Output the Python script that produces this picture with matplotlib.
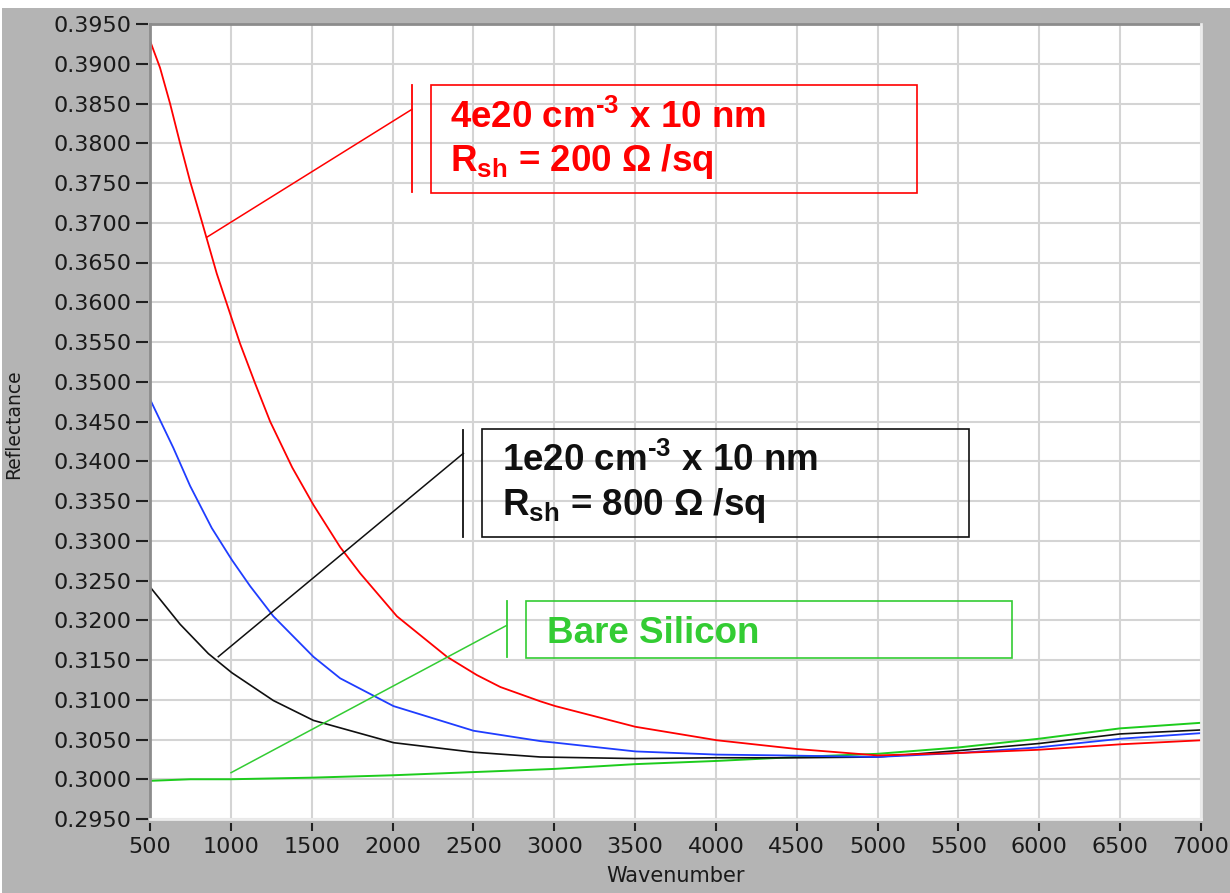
import matplotlib
matplotlib.use("Agg")
import matplotlib.pyplot as plt
from matplotlib.lines import Line2D
from matplotlib.patches import Rectangle

# ---------------- data ----------------
red_x = [500, 562, 624, 686, 748, 820, 913, 985, 1057, 1150, 1243, 1380, 1511, 1676, 1800,
         2027, 2337, 2522, 2667, 2914, 3007, 3502, 4008, 4503, 4998, 5504, 5989, 6505, 7000]
red_y = [0.3929, 0.3895, 0.3850, 0.3800, 0.3752, 0.3702, 0.3636, 0.3592, 0.3548, 0.3498,
         0.3450, 0.3392, 0.3345, 0.3292, 0.3259, 0.3205, 0.3154, 0.3131, 0.3116, 0.3098,
         0.3092, 0.3066, 0.3049, 0.3038, 0.3030, 0.3033, 0.3037, 0.3044, 0.3049]

blue_x = [500, 644, 748, 882, 1006, 1119, 1263, 1511, 1676, 2006, 2501, 2914, 3007, 3502,
          4008, 4400, 4998, 5500, 5989, 6505, 7000]
blue_y = [0.3478, 0.3417, 0.3369, 0.3316, 0.3276, 0.3243, 0.3205, 0.3154, 0.3127, 0.3092,
          0.3061, 0.3048, 0.3046, 0.3035, 0.3031, 0.3030, 0.3028, 0.3033, 0.3040, 0.3051,
          0.3058]

black_x = [500, 686, 861, 1006, 1263, 1511, 2006, 2501, 2914, 3500, 4000, 4500, 5000,
           5500, 6000, 6500, 7000]
black_y = [0.3242, 0.3195, 0.3158, 0.3134, 0.3099, 0.3074, 0.3046, 0.3034, 0.3028, 0.3026,
           0.3027, 0.3027, 0.3028, 0.3036, 0.3045, 0.3057, 0.3062]

green_x = [500, 750, 1000, 1500, 2000, 2500, 3000, 3500, 4000, 4500, 5000, 5500, 6000,
           6500, 7000]
green_y = [0.2998, 0.3000, 0.3000, 0.3002, 0.3005, 0.3009, 0.3013, 0.3019, 0.3023, 0.3028,
           0.3032, 0.3040, 0.3051, 0.3064, 0.3071]

x_ticks = list(range(500, 7001, 500))
y_ticks = [0.2950 + 0.005 * i for i in range(21)]
x_label = "Wavenumber"
y_label = "Reflectance"

red_lines = [r"4e20 cm$^{\text{-3}}$ x 10 nm", r"R$_{sh}$ = 200 Ω /sq"]
black_lines = [r"1e20 cm$^{\text{-3}}$ x 10 nm", r"R$_{sh}$ = 800 Ω /sq"]
green_lines = ["Bare Silicon"]

# ---------------- style ----------------
plt.rcParams["mathtext.fontset"] = "custom"
for k in ("rm", "it", "bf", "sf"):
    plt.rcParams["mathtext." + k] = "Liberation Sans:bold"
plt.rcParams["mathtext.default"] = "rm"

W, H = 1230, 893
fig = plt.figure(figsize=(W / 100, H / 100), dpi=100)
fig.patch.set_facecolor("white")
GRAY = "#b4b4b4"
fig.patches.append(Rectangle((2 / W, 0), 1 - 2 / W, 1 - 8 / H, transform=fig.transFigure,
                             facecolor=GRAY, edgecolor="none", zorder=-10))

L, R, T, B = 150, 1201, 24, 819
ax = fig.add_axes([L / W, 1 - B / H, (R - L) / W, (B - T) / H])
ax.set_facecolor("white")
ax.set_xlim(500, 7000)
ax.set_ylim(0.2950, 0.3950)

ax.set_xticks(x_ticks)
ax.set_xticklabels([str(v) for v in x_ticks])
ax.set_yticks(y_ticks)
ax.set_yticklabels([f"{v:.4f}" for v in y_ticks])
ax.grid(True, color="#d4d4d4", lw=1.5, zorder=0)
ax.set_axisbelow(True)

for s in ax.spines.values():
    s.set_visible(False)
ax.spines["left"].set_position(("outward", 1.5))
ax.spines["bottom"].set_position(("outward", 3))
ax.tick_params(axis="y", direction="out", length=8.6, width=1.5, color="#202020",
               pad=3, labelsize=16, labelcolor="#1a1a1a")
ax.tick_params(axis="x", direction="out", length=5.8, width=1.5, color="#202020",
               pad=4, labelsize=16, labelcolor="#1a1a1a")
ax.tick_params(top=False, right=False)

# inset frame
ax.add_line(Line2D([0, 0], [0, 1], transform=ax.transAxes, color="#8c8c8c", lw=2, clip_on=False, zorder=5))
ax.add_line(Line2D([0, 1], [1, 1], transform=ax.transAxes, color="#8c8c8c", lw=2, clip_on=False, zorder=5))
ax.add_line(Line2D([0, 1], [0, 0], transform=ax.transAxes, color="#ececec", lw=2, clip_on=False, zorder=5))
ax.add_line(Line2D([1, 1], [0, 1], transform=ax.transAxes, color="#ececec", lw=2, clip_on=False, zorder=5))

ax.set_xlabel(x_label, fontsize=15, color="#1a1a1a", labelpad=7)
ax.set_ylabel(y_label, fontsize=13.5, color="#1a1a1a")
ax.yaxis.set_label_coords(-(L - 23) / (R - L), 1 - (424 - T) / (B - T))

RED, BLUE, BLACK, GREEN = "#ff0000", "#1f3dff", "#101010", "#1ccc1c"
ax.plot(green_x, green_y, color=GREEN, lw=1.4, zorder=3)
ax.plot(black_x, black_y, color=BLACK, lw=1.2, zorder=3)
ax.plot(blue_x, blue_y, color=BLUE, lw=1.3, zorder=3)
ax.plot(red_x, red_y, color=RED, lw=1.3, zorder=3)

# ---------------- annotations (figure pixel layout) ----------------
def P(px, py):
    return px / W, 1 - py / H

def seg(p0, p1, color, lw=1.1):
    (x0, y0), (x1, y1) = P(*p0), P(*p1)
    fig.lines.append(Line2D([x0, x1], [y0, y1], transform=fig.transFigure, color=color, lw=lw, zorder=6))

def box(x0, y0, x1, y1, color):
    fx, fy = P(x0, y1)
    fig.patches.append(Rectangle((fx, fy), (x1 - x0) / W, (y1 - y0) / H, transform=fig.transFigure,
                                 facecolor="none", edgecolor=color, lw=1.2, zorder=6))

def txt(px, py, s, color):
    fx, fy = P(px, py)
    fig.text(fx, fy, s, color=color, fontsize=26.5, fontweight="bold", family="Liberation Sans",
             ha="left", va="baseline", zorder=7)

TGREEN = "#33cc33"
# red annotation
seg((206.7, 237.3), (412, 109.3), RED)
seg((412, 85), (412, 192), RED, 1.3)
box(431, 85, 917, 193, RED)
txt(450, 127.5, red_lines[0], RED)
txt(450, 171.4, red_lines[1], RED)

# black annotation
seg((218.3, 656.7), (463.4, 453.3), BLACK)
seg((463.4, 429.6), (463.4, 537), BLACK, 1.3)
box(482, 429, 968.6, 537, BLACK)
txt(502, 471, black_lines[0], BLACK)
txt(502, 514.7, black_lines[1], BLACK)

# green annotation
seg((231, 772.7), (506.5, 625.5), TGREEN)
seg((506.5, 601), (506.5, 657), TGREEN, 1.3)
box(525.5, 601, 1012, 657.5, TGREEN)
txt(547, 643.4, green_lines[0], TGREEN)

fig.savefig("out.png", dpi=100)
